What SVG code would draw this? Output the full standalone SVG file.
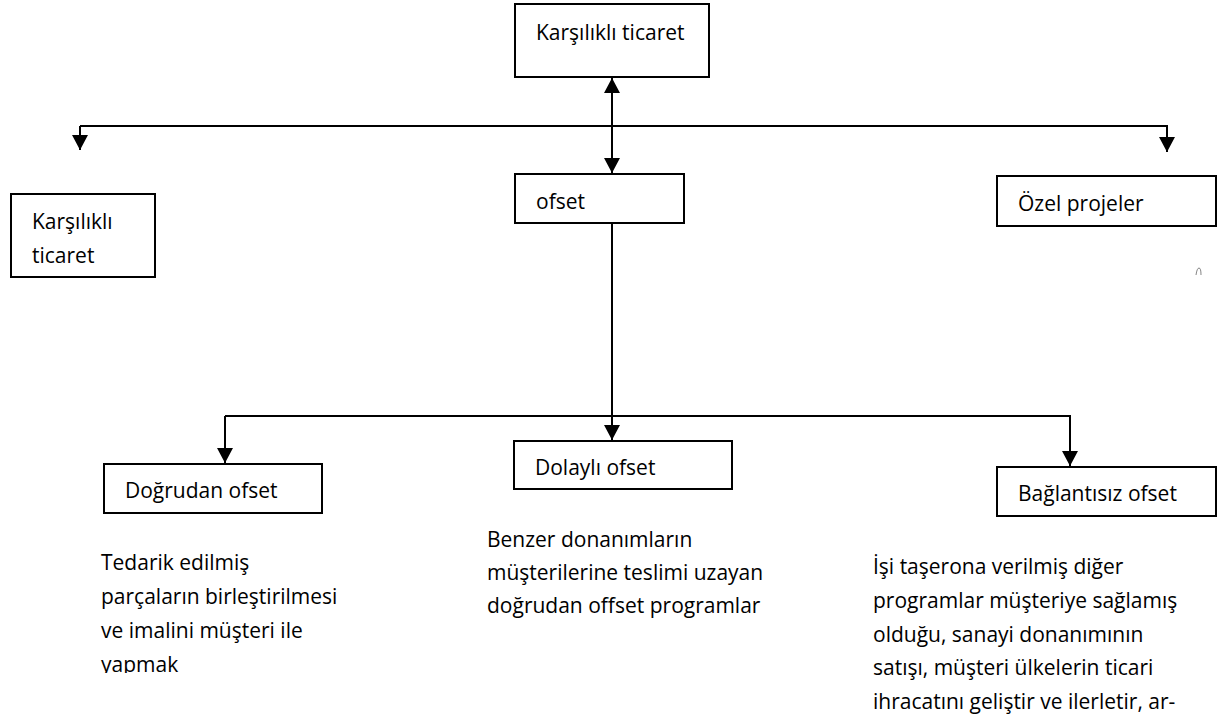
<svg xmlns="http://www.w3.org/2000/svg" width="1218" height="718" viewBox="0 0 1218 718">
<style>
.box{fill:#fff;stroke:#000;stroke-width:2}
.t{font-family:"Open Sans","Liberation Sans",sans-serif;font-size:21px;fill:#000}
.c{fill:none;stroke:#000;stroke-width:2}
</style>
<defs>
<marker id="ah" viewBox="0 0 15 16" refX="15" refY="8" markerWidth="15" markerHeight="16" markerUnits="userSpaceOnUse" orient="auto-start-reverse">
<path d="M0,0 L15,8 L0,16 z" fill="#000"/>
</marker>
<clipPath id="cut"><rect x="0" y="0" width="1218" height="673"/></clipPath>
</defs>
<rect width="1218" height="718" fill="#fff"/>
<g id="connectors">
<line class="c" x1="612" y1="78" x2="612" y2="173" marker-start="url(#ah)" marker-end="url(#ah)"/>
<polyline class="c" points="80,126 1167,126 1167,152" marker-end="url(#ah)"/>
<line class="c" x1="80" y1="126" x2="80" y2="150" marker-end="url(#ah)"/>
<line class="c" x1="612" y1="223" x2="612" y2="440" marker-end="url(#ah)"/>
<polyline class="c" points="225,416 1070,416 1070,466" marker-end="url(#ah)"/>
<line class="c" x1="225" y1="416" x2="225" y2="463" marker-end="url(#ah)"/>
</g>
<g id="n-karsilikli-top">
<rect class="box" x="515" y="4" width="194" height="73"/>
<text class="t" x="536" y="40">Karşılıklı ticaret</text>
</g>
<g id="n-ofset">
<rect class="box" x="515" y="174" width="169" height="49"/>
<text class="t" x="536" y="209">ofset</text>
</g>
<g id="n-karsilikli-left">
<rect class="box" x="11" y="194" width="144" height="83"/>
<text class="t" x="32" y="229">Karşılıklı</text>
<text class="t" x="32" y="263">ticaret</text>
</g>
<g id="n-ozel">
<rect class="box" x="997" y="176" width="219" height="50"/>
<text class="t" x="1018" y="211">Özel projeler</text>
</g>
<g id="n-dogrudan">
<rect class="box" x="104" y="464" width="218" height="49"/>
<text class="t" x="125" y="498">Doğrudan ofset</text>
</g>
<g id="n-dolayli">
<rect class="box" x="514" y="441" width="218" height="48"/>
<text class="t" x="535" y="475">Dolaylı ofset</text>
</g>
<g id="n-baglantisiz">
<rect class="box" x="997" y="467" width="219" height="49"/>
<text class="t" x="1018" y="501">Bağlantısız ofset</text>
</g>
<g id="d-dogrudan" clip-path="url(#cut)">
<text class="t" x="101" y="570">Tedarik edilmiş</text>
<text class="t" x="101" y="604">parçaların birleştirilmesi</text>
<text class="t" x="101" y="638">ve imalini müşteri ile</text>
<text class="t" x="101" y="672">yapmak</text>
</g>
<g id="d-dolayli">
<text class="t" x="487" y="547">Benzer donanımların</text>
<text class="t" x="487" y="580">müşterilerine teslimi uzayan</text>
<text class="t" x="487" y="613">doğrudan offset programlar</text>
</g>
<g id="d-baglantisiz">
<text class="t" x="873" y="574">İşi taşerona verilmiş diğer</text>
<text class="t" x="873" y="608">programlar müşteriye sağlamış</text>
<text class="t" x="873" y="642">olduğu, sanayi donanımının</text>
<text class="t" x="873" y="675">satışı, müşteri ülkelerin ticari</text>
<text class="t" x="873" y="709">ihracatını geliştir ve ilerletir, ar-</text>
</g>
<path d="M1196,275 Q1197,268 1199,268 Q1201,268 1201,275" fill="none" stroke="#666" stroke-width="0.8"/>
</svg>
